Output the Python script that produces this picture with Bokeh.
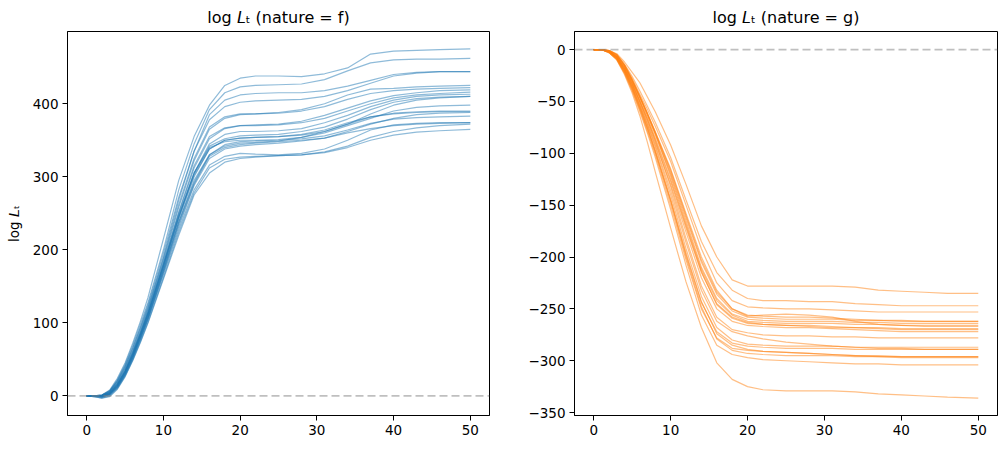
from bokeh.plotting import figure
from bokeh.layouts import row
from bokeh.models import ColumnDataSource, Range1d, FixedTicker, Span
from bokeh.embed import file_html
from bokeh.resources import INLINE

# ---- data ----
steps = [0, 1, 2, 3, 4, 5, 6, 7, 8, 10, 12, 14, 16, 18, 20, 22, 25, 28, 31, 34, 37, 40, 43, 46, 50]

f_runs = [
    [0, 0, 1, 8, 24, 45, 72, 102, 135, 215, 295, 355, 398, 425, 435, 438, 438, 437, 441, 449, 468, 472, 473, 474, 475],
    [0, 0, 1, 7, 22, 43, 69, 98, 128, 200, 282, 345, 392, 415, 423, 425, 426, 427, 433, 445, 456, 460, 461, 461, 462],
    [0, 0, 0, 6, 20, 40, 65, 93, 122, 190, 268, 335, 385, 405, 412, 414, 415, 415, 418, 424, 432, 440, 443, 444, 444],
    [0, 0, 1, 7, 21, 41, 66, 94, 125, 195, 272, 335, 378, 396, 402, 404, 405, 406, 410, 418, 428, 438, 442, 444, 444],
    [0, 0, 0, 5, 18, 37, 61, 88, 118, 185, 258, 322, 365, 380, 385, 386, 388, 392, 400, 412, 420, 421, 423, 424, 425],
    [0, 0, 1, 6, 19, 38, 62, 90, 120, 188, 262, 325, 368, 382, 386, 386, 387, 390, 396, 406, 414, 418, 420, 421, 422],
    [0, 0, 0, 4, 16, 34, 58, 85, 114, 180, 250, 312, 352, 366, 370, 371, 372, 376, 384, 394, 404, 411, 415, 418, 419],
    [0, 0, 0, 5, 17, 35, 59, 86, 116, 182, 252, 315, 355, 367, 370, 370, 371, 374, 380, 390, 400, 408, 412, 414, 416],
    [0, -1, -1, 3, 14, 32, 55, 82, 111, 176, 244, 305, 345, 358, 362, 362, 363, 366, 374, 384, 396, 405, 410, 412, 413],
    [0, 0, -1, 3, 15, 33, 56, 83, 112, 178, 246, 305, 342, 352, 356, 357, 358, 362, 368, 379, 392, 402, 407, 409, 410],
    [0, 0, 0, 4, 15, 33, 57, 84, 113, 178, 245, 302, 338, 350, 353, 354, 355, 357, 362, 372, 386, 398, 405, 408, 410],
    [0, 0, 0, 4, 16, 34, 58, 85, 114, 180, 248, 305, 340, 348, 350, 350, 351, 354, 360, 370, 380, 390, 395, 397, 398],
    [0, 0, -1, 2, 13, 30, 53, 80, 108, 172, 238, 295, 330, 342, 346, 347, 349, 354, 362, 372, 382, 387, 389, 390, 390],
    [0, 0, 0, 3, 14, 32, 55, 82, 110, 175, 242, 300, 338, 350, 353, 354, 355, 358, 364, 374, 382, 386, 388, 389, 389],
    [0, 0, -1, 2, 12, 29, 52, 78, 106, 168, 232, 288, 325, 338, 342, 344, 346, 349, 353, 362, 372, 380, 385, 387, 388],
    [0, 0, -1, 2, 13, 31, 54, 80, 108, 172, 238, 292, 330, 344, 348, 349, 350, 352, 356, 364, 373, 379, 381, 382, 383],
    [0, 0, -2, 1, 11, 28, 50, 76, 104, 166, 228, 282, 316, 328, 332, 331, 330, 332, 338, 350, 364, 371, 373, 374, 374],
    [0, 0, -1, 2, 12, 30, 52, 78, 106, 170, 235, 290, 328, 340, 344, 346, 348, 350, 353, 360, 366, 370, 372, 373, 374],
    [0, -1, -3, 0, 10, 27, 49, 74, 101, 162, 224, 278, 312, 324, 327, 328, 329, 330, 334, 342, 354, 362, 367, 370, 372],
    [0, -1, -3, -1, 9, 26, 48, 73, 100, 160, 220, 275, 305, 320, 325, 327, 329, 330, 333, 340, 350, 357, 361, 363, 365],
]

g_runs = [
    [0, 0, -1, -4, -12, -22, -32, -46, -60, -92, -130, -170, -200, -222, -228, -228, -228, -228, -228, -229, -232, -233, -234, -235, -235],
    [0, 0, -1, -5, -14, -26, -40, -55, -70, -104, -145, -185, -215, -232, -240, -242, -242, -243, -243, -245, -246, -247, -247, -247, -247],
    [0, 0, -1, -5, -15, -28, -43, -58, -74, -108, -150, -192, -225, -242, -248, -249, -250, -250, -251, -252, -253, -253, -253, -253, -253],
    [0, 0, -2, -6, -16, -30, -46, -62, -79, -115, -158, -200, -232, -250, -256, -257, -258, -258, -259, -260, -261, -261, -262, -262, -262],
    [0, 0, -1, -5, -15, -29, -45, -62, -80, -118, -162, -205, -236, -252, -258, -259, -260, -260, -260, -261, -261, -262, -262, -262, -262],
    [0, 0, -2, -7, -17, -31, -47, -64, -82, -120, -165, -210, -240, -255, -260, -261, -262, -262, -262, -263, -263, -264, -264, -264, -264],
    [0, 0, -2, -6, -16, -30, -46, -63, -81, -122, -168, -212, -242, -256, -262, -263, -264, -264, -264, -265, -265, -266, -266, -266, -266],
    [0, 0, -1, -5, -15, -29, -45, -62, -80, -116, -160, -203, -234, -250, -257, -256, -255, -256, -258, -262, -265, -266, -267, -267, -267],
    [0, 0, -2, -7, -18, -33, -50, -68, -87, -127, -172, -215, -245, -258, -263, -265, -266, -266, -267, -268, -268, -269, -269, -269, -269],
    [0, 0, -2, -7, -18, -32, -49, -66, -85, -125, -170, -214, -246, -259, -264, -265, -266, -267, -268, -268, -269, -270, -270, -270, -270],
    [0, 0, -2, -8, -19, -34, -51, -70, -90, -130, -176, -220, -250, -262, -266, -267, -268, -268, -269, -270, -271, -272, -272, -272, -272],
    [0, 0, -2, -7, -18, -33, -50, -68, -88, -132, -182, -228, -258, -270, -273, -275, -276, -276, -277, -277, -278, -278, -278, -278, -278],
    [0, 0, -2, -8, -20, -36, -54, -73, -94, -140, -192, -238, -268, -280, -284, -285, -286, -286, -286, -287, -287, -287, -287, -287, -287],
    [0, 0, -2, -8, -20, -35, -53, -72, -92, -136, -186, -232, -262, -272, -276, -279, -282, -284, -286, -287, -288, -288, -289, -289, -289],
    [0, 0, -3, -9, -22, -38, -57, -77, -99, -146, -198, -244, -272, -283, -286, -287, -288, -288, -288, -289, -289, -289, -289, -289, -289],
    [0, 0, -3, -9, -22, -39, -58, -79, -101, -150, -203, -250, -278, -288, -290, -291, -292, -293, -294, -295, -295, -296, -296, -296, -296],
    [0, 0, -2, -9, -21, -37, -56, -76, -98, -146, -200, -248, -279, -290, -293, -294, -295, -295, -295, -296, -296, -296, -296, -296, -296],
    [0, 0, -3, -10, -23, -40, -60, -81, -104, -154, -208, -256, -285, -294, -297, -299, -300, -301, -302, -303, -303, -304, -304, -304, -304],
    [0, 0, -2, -8, -20, -36, -55, -75, -97, -144, -196, -243, -274, -285, -289, -291, -292, -293, -294, -295, -296, -297, -297, -297, -297],
    [0, 0, -3, -10, -24, -42, -64, -90, -118, -172, -224, -268, -302, -318, -325, -328, -329, -329, -329, -330, -332, -333, -334, -335, -336],
]

x_ticks = [0, 10, 20, 30, 40, 50]
f_ticks = [0, 100, 200, 300, 400]
g_ticks = [0, -50, -100, -150, -200, -250, -300, -350]

FONT = "DejaVu Sans"
LBL = "log \U0001D613\u209C"


def make_panel(runs, color, title, width, left, right, xr, yr, yticks, ylabel):
    p = figure(width=width, height=449, output_backend="svg", toolbar_location=None,
               x_range=Range1d(*xr), y_range=Range1d(*yr),
               min_border_left=left, min_border_right=right,
               min_border_top=30, min_border_bottom=34)
    p.title.text = title
    p.title.align = "center"
    p.title.text_font = FONT
    p.title.text_font_size = "16px"
    p.title.text_font_style = "normal"
    p.title.text_color = "black"
    p.grid.visible = False
    p.outline_line_color = "black"
    p.outline_line_width = 1
    p.outline_line_alpha = 1
    p.background_fill_color = "white"
    p.border_fill_color = "white"

    src = ColumnDataSource(dict(xs=[steps] * len(runs), ys=runs))
    p.multi_line("xs", "ys", source=src, line_color=color, line_alpha=0.5, line_width=1.2)
    p.add_layout(Span(location=0, dimension="width", line_color="gray", line_alpha=0.5,
                      line_dash="8 4", line_width=1.8))

    for ax in (p.xaxis[0], p.yaxis[0]):
        ax.axis_line_color = "black"
        ax.axis_line_width = 1
        ax.major_tick_line_color = "black"
        ax.major_tick_line_width = 1
        ax.major_tick_out = 5
        ax.major_tick_in = 0
        ax.minor_tick_line_color = None
        ax.major_label_text_font = FONT
        ax.major_label_text_font_size = "13.5px"
        ax.major_label_text_color = "black"
        ax.major_label_standoff = 4
    p.xaxis[0].ticker = FixedTicker(ticks=x_ticks)
    p.yaxis[0].ticker = FixedTicker(ticks=yticks)
    p.yaxis[0].major_label_overrides = {t: (str(t).replace("-", "\u2212")) for t in yticks}
    if ylabel:
        p.yaxis[0].axis_label = ylabel
        p.yaxis[0].axis_label_text_font = FONT
        p.yaxis[0].axis_label_text_font_size = "13.5px"
        p.yaxis[0].axis_label_text_font_style = "normal"
        p.yaxis[0].axis_label_text_color = "black"
        p.yaxis[0].axis_label_standoff = 8
    return p


p1 = make_panel(f_runs, "#1f77b4", LBL + " (nature = f)", 500, 67, 11,
                (-2.5, 52.5), (-26.9, 498.9), f_ticks, LBL)
p2 = make_panel(g_runs, "#ff7f0e", LBL + " (nature = g)", 506, 74, 9,
                (-2.5, 52.5), (-352.8, 17.4), g_ticks, None)

layout = row(p1, p2)
open("out.html", "w").write(file_html(layout, INLINE))
